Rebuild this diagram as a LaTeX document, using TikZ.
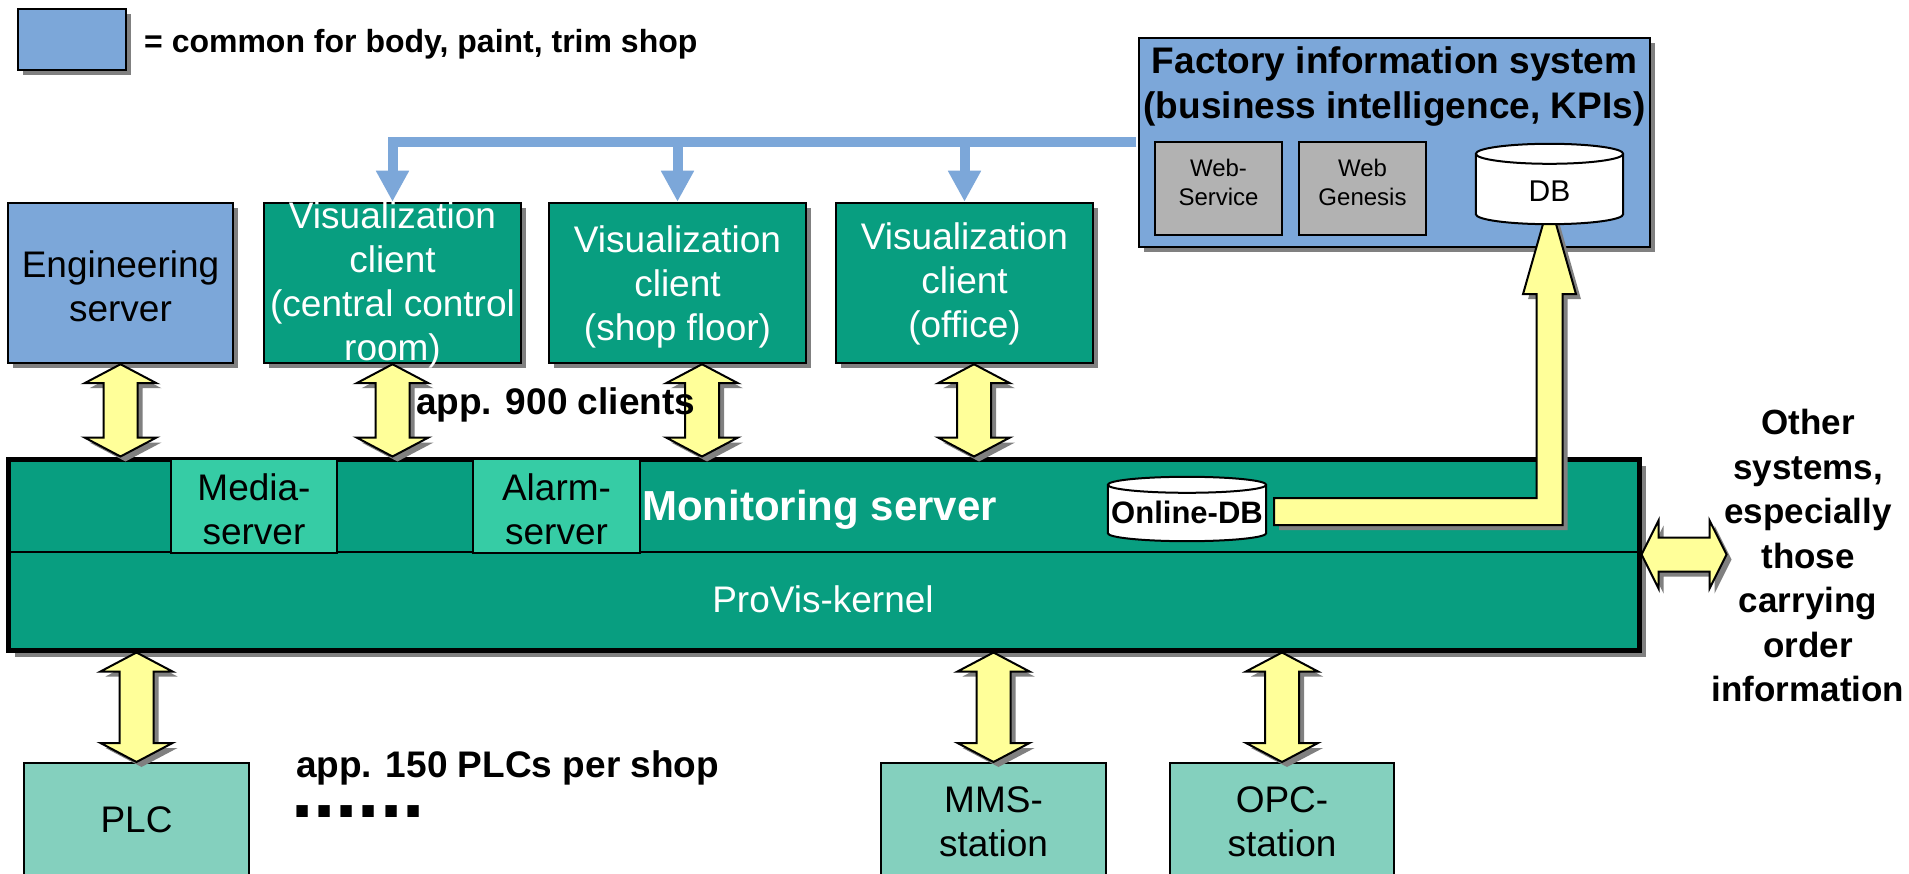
\documentclass[tikz,border=0pt]{standalone}
\usepackage{fontspec}
\setmainfont{Liberation Sans}
\usetikzlibrary{calc,shadows,arrows.meta}
\definecolor{cblue}{RGB}{124,167,217}
\definecolor{cteal}{RGB}{8,158,128}
\definecolor{clteal}{RGB}{54,204,165}
\definecolor{cplc}{RGB}{132,208,190}
\definecolor{cgray}{RGB}{178,178,178}
\definecolor{cyel}{RGB}{255,255,153}
\definecolor{cshadow}{RGB}{128,128,128}
\newcommand\fsz[2]{\fontsize{#1}{#2}\selectfont}
\tikzset{
  shd/.style={drop shadow={shadow xshift=5pt,shadow yshift=-5pt,fill=cshadow,opacity=1}},
  box/.style={draw=black,line width=2.5pt,inner sep=0pt},
  sbox/.style={box,shd},
  yarrow/.style={draw=black,fill=cyel,line width=2pt,line join=miter,shd},
  blueline/.style={draw=cblue,line width=10pt,-{Triangle[width=31pt,length=31pt]}},
  cylst/.style={draw=black,fill=white,line width=2pt},
  txt/.style={inner sep=0pt,align=center,font=\fsz{37}{44}},
  wtxt/.style={txt,text=white},
  btxt/.style={txt,font=\bfseries\fsz{37}{44}},
}
\newcommand\VArrow[2]{%
  \path[yarrow] let \p1=#1, \p2=#2 in
    (\x1,\y1) -- (\x1+36pt,\y1-19pt) -- (\x1+17pt,\y1-19pt) -- (\x1+17pt,\y2+19pt)
    -- (\x1+36pt,\y2+19pt) -- (\x1,\y2) -- (\x1-36pt,\y2+19pt) -- (\x1-17pt,\y2+19pt)
    -- (\x1-17pt,\y1-19pt) -- (\x1-36pt,\y1-19pt) -- cycle;}
\newcommand\HArrow[2]{%
  \path[yarrow] let \p1=#1, \p2=#2 in
    (\x1,\y1) -- (\x1+17pt,\y1+34pt) -- (\x1+17pt,\y1+17pt) -- (\x2-17pt,\y1+17pt)
    -- (\x2-17pt,\y1+34pt) -- (\x2,\y1) -- (\x2-17pt,\y1-34pt) -- (\x2-17pt,\y1-17pt)
    -- (\x1+17pt,\y1-17pt) -- (\x1+17pt,\y1-34pt) -- cycle;}
\newcommand\Cyl[2]{%
  \path[cylst] let \p1=(#1.north west), \p2=(#1.south east), \n1={(\x2-\x1)/2} in
    (\x1,\y1-#2) -- (\x1,\y2+#2) arc[start angle=180,end angle=360,x radius=\n1,y radius=#2]
    -- (\x2,\y1-#2) arc[start angle=0,end angle=180,x radius=\n1,y radius=#2] -- cycle;
  \draw[cylst,fill=none] let \p1=(#1.north west), \p2=(#1.south east), \n1={(\x2-\x1)/2} in
    (\x1,\y1-#2) arc[start angle=180,end angle=360,x radius=\n1,y radius=#2];}
\begin{document}
\begin{tikzpicture}[x=1pt,y=-1pt]
\clip (0,0) rectangle (1909,874);
\fill[white] (0,0) rectangle (1909,874);

% legend
\node[sbox,fill=cblue,minimum width=108pt,minimum height=61pt] (leg) at (72,39.5) {};

% factory information system
\node[sbox,fill=cblue,minimum width=511pt,minimum height=209pt] (fis) at (1394.5,142.5) {};
\node[box,line width=1.5pt,fill=cgray,minimum width=127pt,minimum height=93pt] (ws) at (1218.5,188.5) {};
\node[box,line width=1.5pt,fill=cgray,minimum width=127pt,minimum height=93pt] (wg) at (1362.5,188.5) {};
\node[inner sep=0pt,minimum width=147pt,minimum height=80pt] (db) at (1549.5,184) {};

% top row
\node[sbox,fill=cblue,minimum width=225pt,minimum height=160pt] (eng) at (120.5,283) {};
\node[sbox,fill=cteal,minimum width=257pt,minimum height=160pt] (vc) at (392.5,283) {};
\node[sbox,fill=cteal,minimum width=257pt,minimum height=160pt] (vs) at (677.5,283) {};
\node[sbox,fill=cteal,minimum width=257pt,minimum height=160pt] (vo) at (964.5,283) {};

% blue connectors
\draw[blueline,shorten <=1.5pt] (fis.west) -| (vc.north);
\draw[blueline] (fis.west -| vs.north) -- (vs.north);
\draw[blueline] (fis.west -| vo.north) -- (vo.north);

% monitoring server
\node[box,line width=5pt,fill=cteal,minimum width=1631pt,minimum height=191pt,
  drop shadow={shadow xshift=7pt,shadow yshift=-7pt,fill=cshadow,opacity=1}] (mon) at (823.5,554.5) {};
\draw[line width=2pt] (8,552) -- (1639,552);
\node[box,line width=2pt,fill=clteal,minimum width=166pt,minimum height=94pt] (media) at (254,506) {};
\node[box,line width=2pt,fill=clteal,minimum width=167pt,minimum height=94pt] (alarm) at (556.5,506) {};
\node[inner sep=0pt,minimum width=158pt,minimum height=64pt] (odb) at (1187,509) {};
\Cyl{odb}{8pt}

% L arrow to DB
\path[yarrow] let \p1=(odb.east), \p2=(db.south) in
  (\x1+8pt,\y1+11pt) -- (\x2-13pt,\y1+11pt) -- (\x2-13pt,\y2-70pt) -- (\x2-26.5pt,\y2-70pt)
  -- (\x2,\y2+23pt) -- (\x2+26.5pt,\y2-70pt) -- (\x2+13pt,\y2-70pt) -- (\x2+13pt,\y1-16pt)
  -- (\x1+8pt,\y1-16pt) -- cycle;
\Cyl{db}{10pt}

% bottom row
\node[box,line width=2pt,fill=cplc,minimum width=225pt,minimum height=117pt] (plc) at (136.5,821.5) {};
\node[box,line width=2pt,fill=cplc,minimum width=225pt,minimum height=117pt] (mms) at (993.5,821.5) {};
\node[box,line width=2pt,fill=cplc,minimum width=224pt,minimum height=117pt] (opc) at (1282,821.5) {};

% yellow double arrows
\VArrow{(eng.south)}{(eng.south |- mon.north)}
\VArrow{(vc.south)}{(vc.south |- mon.north)}
\VArrow{($(vs.south)+(24.5pt,0pt)$)}{($(vs.south |- mon.north)+(24.5pt,0pt)$)}
\VArrow{($(vo.south)+(9.5pt,0pt)$)}{($(vo.south |- mon.north)+(9.5pt,0pt)$)}
\VArrow{(plc.north |- mon.south)}{(plc.north)}
\VArrow{(mms.north |- mon.south)}{(mms.north)}
\VArrow{(opc.north |- mon.south)}{(opc.north)}
\coordinate (othr) at ($(mon.east)+(85pt,0pt)$);
\HArrow{(mon.east)}{(othr)}

% texts
\node[btxt,font=\bfseries\fsz{32}{38},anchor=west] (legtxt) at (144,44) {= common for body, paint, trim shop};
\node[btxt,font=\bfseries\fsz{37}{45}] (fistxt) at (1394.5,86.5) {Factory information system\\(business intelligence, KPIs)};
\node[txt,font=\fsz{24}{29}] (wstxt) at (1218.5,182) {Web-\\Service};
\node[txt,font=\fsz{24}{29}] (wgtxt) at (1362.5,182) {Web\\Genesis};
\node[txt,font=\fsz{30}{36}] (dbtxt) at (1549.5,191) {DB};
\node[txt] (engtxt) at (120.5,286) {Engineering\\server};
\node[wtxt] (vctxt) at (392.5,285) {Visualization\\client\\(central control\\room)};
\node[wtxt] (vstxt) at (677.5,287) {Visualization\\client\\(shop floor)};
\node[wtxt] (votxt) at (964.5,284) {Visualization\\client\\(office)};
\node[btxt,anchor=west] (cltxt) at (416,405) {app. 900 clients};
\node[txt] (mediatxt) at (254,509.5) {Media-\\server};
\node[txt] (alarmtxt) at (556.5,509.5) {Alarm-\\server};
\node[wtxt,font=\bfseries\fsz{42}{50},anchor=west] (montxt) at (642,510) {Monitoring server};
\node[btxt,font=\bfseries\fsz{31}{36}] (odbtxt) at (1187,512) {Online-DB};
\node[wtxt] (kertxt) at (823,599) {ProVis-kernel};
\node[btxt,font=\bfseries\fsz{35}{44.5}] (othtxt) at (1808,555.5) {Other\\systems,\\especially\\those\\carrying\\order\\information};
\node[txt] (plctxt) at (136.5,820) {PLC};
\node[txt] (mmstxt) at (993.5,822) {MMS-\\station};
\node[txt] (opctxt) at (1282,822) {OPC-\\station};
\node[btxt,anchor=west] (plcstxt) at (296,768) {app. 150 PLCs per shop};
\node[btxt,font=\bfseries\fsz{80}{90},anchor=base west,text height=12pt,text depth=0pt] (dots) at (291,817) {......};
\end{tikzpicture}
\end{document}
